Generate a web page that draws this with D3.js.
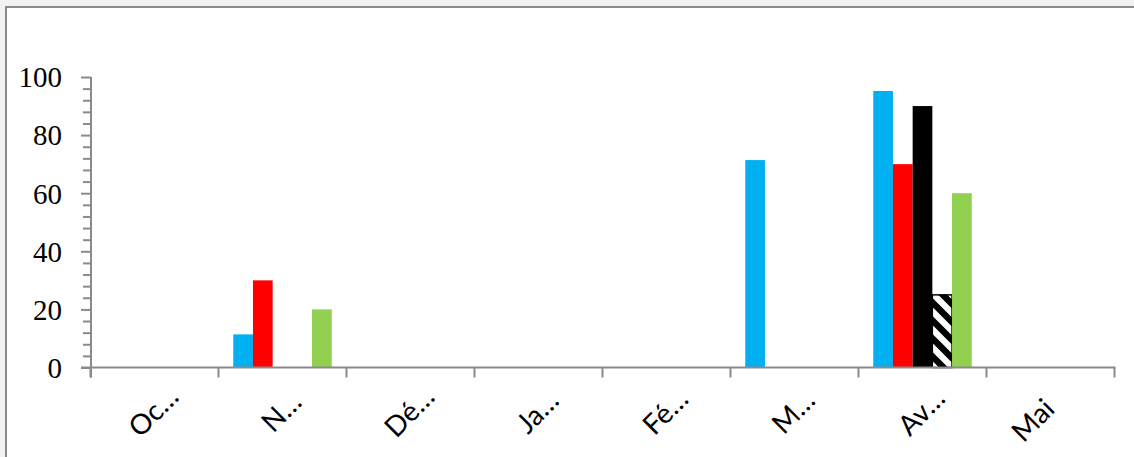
<!DOCTYPE html>
<html>
<head>
<meta charset="utf-8">
<script src="https://cdn.jsdelivr.net/npm/d3@7"></script>
<style>
  html, body { margin: 0; padding: 0; background: #f2f2f2; overflow: hidden; }
  svg { display: block; }
</style>
</head>
<body>
<svg id="chart" width="1134" height="457"></svg>
<script>
// Month categories (labels as shown on the axis, truncated where long)
const categories = ["Oc…", "N…", "Dé…", "Ja…", "Fé…", "M…", "Av…", "Mai"];

// Series values per month (null = no bar)
const seriesBlue    = [null, 11.4, null, null, null, 71.4, 95.2, null];
const seriesRed     = [null, 30,   null, null, null, null, 70,   null];
const seriesBlack   = [null, null, null, null, null, null, 90,   null];
const seriesHatched = [null, null, null, null, null, null, 25,   null];
const seriesGreen   = [null, 20,   null, null, null, null, 60,   null];

// Y axis ticks
const yMajorTicks = [0, 20, 40, 60, 80, 100];
const yMinorStep = 4;

const seriesList = [
  { key: "s1", values: seriesBlue,    fill: "#00b0f0" },
  { key: "s2", values: seriesRed,     fill: "#ff0000" },
  { key: "s3", values: seriesBlack,   fill: "#000000" },
  { key: "s4", values: seriesHatched, fill: "url(#hatch)", stroke: "#000000" },
  { key: "s5", values: seriesGreen,   fill: "#92d050" }
];

const svg = d3.select("#chart");
const axisColor = "#8a8a8a";

// Diagonal hatch pattern (downward stripes)
const defs = svg.append("defs");
const pat = defs.append("pattern")
  .attr("id", "hatch")
  .attr("patternUnits", "userSpaceOnUse")
  .attr("width", 18).attr("height", 18);
pat.append("rect").attr("width", 18).attr("height", 18).attr("fill", "#ffffff");
pat.append("path")
  .attr("d", "M-4,-4L22,22M-4,14L4,22M14,-4L22,4")
  .attr("stroke", "#000000")
  .attr("stroke-width", 6.5)
  .attr("fill", "none");

// Chart area frame
svg.append("rect")
  .attr("x", 6).attr("y", 7)
  .attr("width", 1160).attr("height", 470)
  .attr("fill", "#ffffff")
  .attr("stroke", axisColor)
  .attr("stroke-width", 2);

// Scales
const x = d3.scaleBand()
  .domain(categories)
  .range([90.5, 1114.5])
  .paddingInner(0).paddingOuter(0);

const xs = d3.scaleBand()
  .domain(seriesList.map(s => s.key))
  .range([0, x.bandwidth()])
  .paddingInner(0).paddingOuter(0.75);

const y = d3.scaleLinear().domain([0, 100]).range([367.5, 77]);

// Bars
const barData = [];
seriesList.forEach(s => {
  s.values.forEach((v, i) => {
    if (v != null) barData.push({ cat: categories[i], key: s.key, value: v, fill: s.fill, stroke: s.stroke });
  });
});

svg.append("g").selectAll("rect")
  .data(barData)
  .join("rect")
  .attr("x", d => x(d.cat) + xs(d.key))
  .attr("y", d => y(d.value))
  .attr("width", xs.bandwidth())
  .attr("height", d => y(0) - y(d.value))
  .attr("fill", d => d.fill)
  .attr("stroke", d => d.stroke || "none")
  .attr("stroke-width", d => d.stroke ? 1.5 : 0);

// Y axis: minor ticks
const minorTicks = d3.range(0, 100 + 0.001, yMinorStep).filter(v => !yMajorTicks.includes(v));
const yMinor = d3.axisLeft(y).tickValues(minorTicks).tickSize(8).tickFormat("");
const gMinor = svg.append("g").attr("transform", "translate(91,0)").call(yMinor);
gMinor.select(".domain").remove();
gMinor.selectAll("line").attr("stroke", axisColor).attr("stroke-width", 2);

// Y axis: major ticks and labels
const yMajor = d3.axisLeft(y).tickValues(yMajorTicks).tickSize(10).tickPadding(19).tickFormat(d3.format("d"));
const gMajor = svg.append("g").attr("transform", "translate(91,0)").call(yMajor);
gMajor.select(".domain").remove();
gMajor.selectAll("line").attr("stroke", axisColor).attr("stroke-width", 2);
gMajor.selectAll("text")
  .attr("fill", "#000")
  .style("font-family", "'Liberation Serif', 'Times New Roman', serif")
  .style("font-size", "29px")
  .attr("dy", "0.34em");

// Y axis line (extends down to the category tick length)
svg.append("line")
  .attr("x1", 91).attr("x2", 91)
  .attr("y1", y(100)).attr("y2", y(0) + 10)
  .attr("stroke", axisColor).attr("stroke-width", 2);

// X axis line and category boundary ticks
svg.append("line")
  .attr("x1", 81).attr("x2", x.range()[1] + 1)
  .attr("y1", y(0)).attr("y2", y(0))
  .attr("stroke", axisColor).attr("stroke-width", 2);

const boundaries = categories.map(c => x(c)).concat([x.range()[1]]);
svg.append("g").selectAll("line")
  .data(boundaries)
  .join("line")
  .attr("x1", d => d).attr("x2", d => d)
  .attr("y1", y(0)).attr("y2", y(0) + 10)
  .attr("stroke", axisColor).attr("stroke-width", 2);

// Category labels, rotated -45°
svg.append("g").selectAll("text")
  .data(categories)
  .join("text")
  .attr("transform", d => {
    const cx = x(d) + x.bandwidth() / 2 - 2;
    const cy = d.endsWith("…") ? 411 : 403;
    return `translate(${cx},${cy}) rotate(-45)`;
  })
  .attr("text-anchor", d => d.endsWith("…") ? "middle" : "end")
  .attr("dominant-baseline", "central")
  .attr("fill", "#000")
  .style("font-family", "Lato, 'Open Sans', sans-serif")
  .style("font-size", "28px")
  .text(d => d);
</script>
</body>
</html>
